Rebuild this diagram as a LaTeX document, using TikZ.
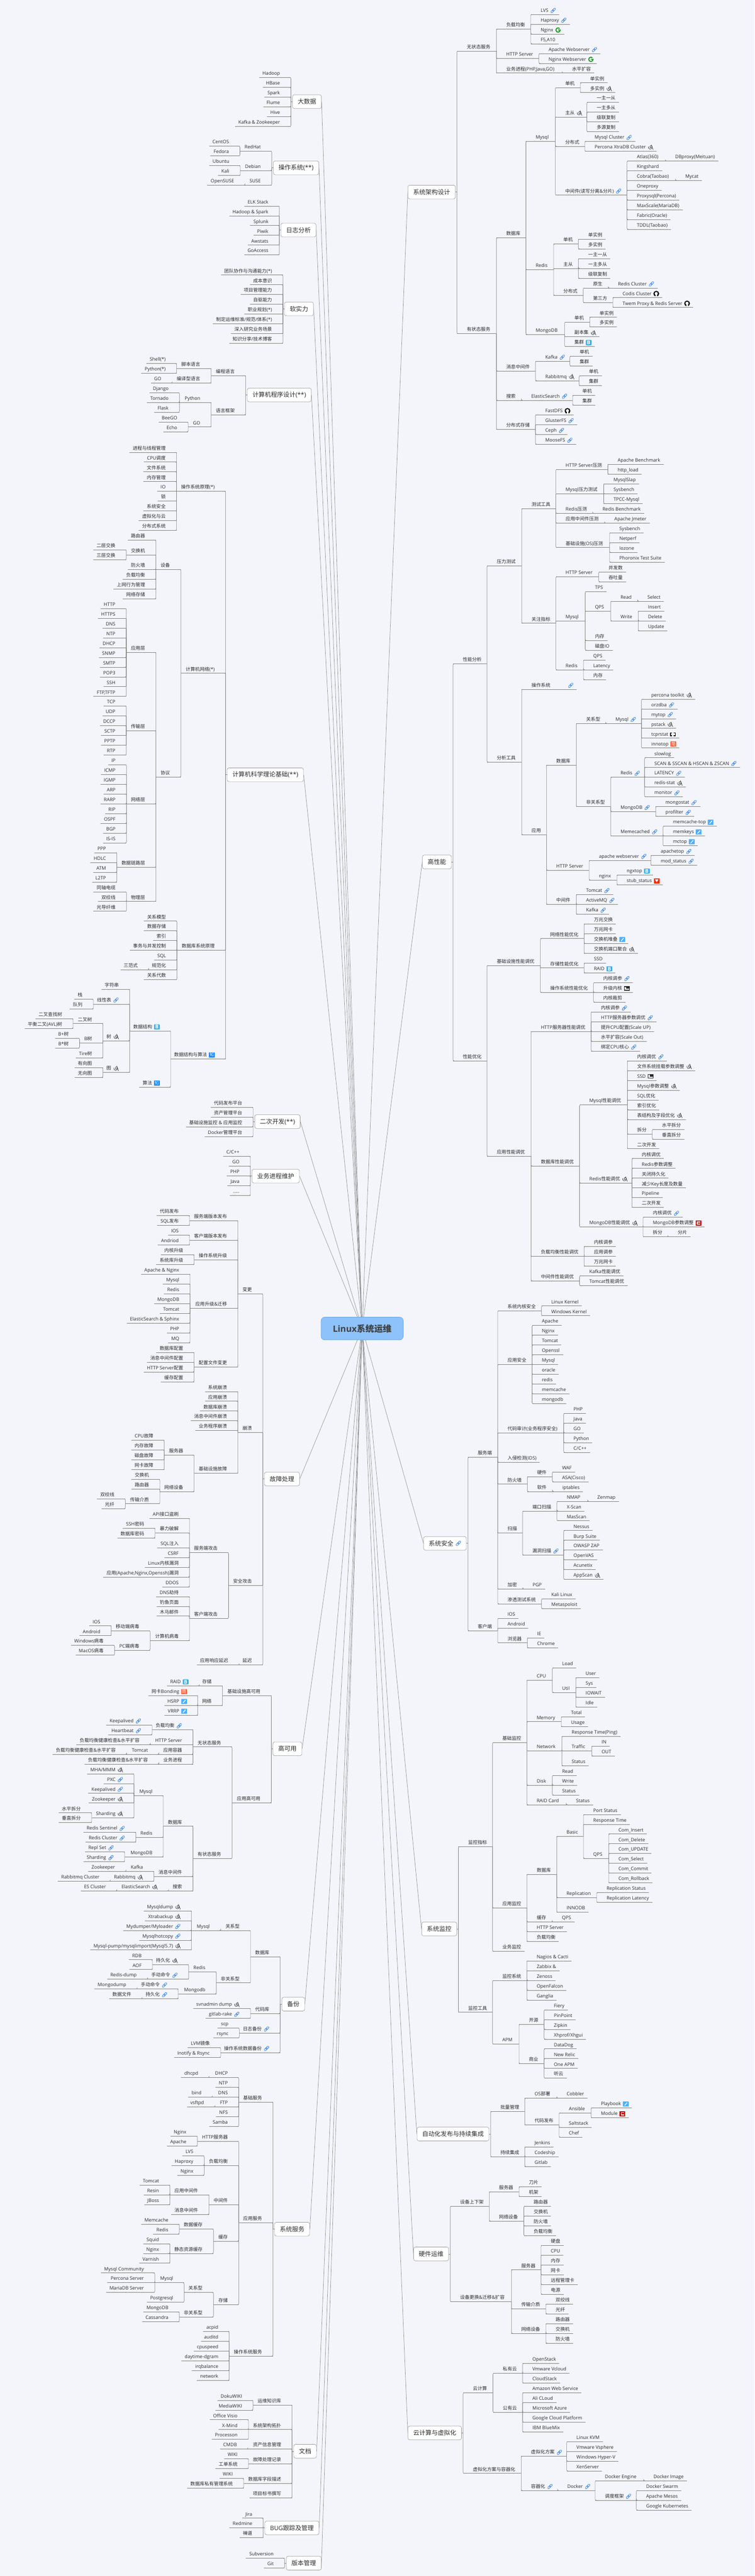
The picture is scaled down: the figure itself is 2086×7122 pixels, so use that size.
\documentclass[tikz,border=0pt]{standalone}
\usepackage{fontspec}
\setmainfont{Open Sans}
\newfontfamily\cjkfont{Noto Sans CJK SC}
\usetikzlibrary{calc,backgrounds}
% Chinese runs switch to the CJK family on their own
\newXeTeXintercharclass\cjkclass
\newcount\cjkcode
\cjkcode="4E00
\loop\XeTeXcharclass\cjkcode=\cjkclass\ifnum\cjkcode<"9FFF\advance\cjkcode by 1\repeat
\XeTeXinterchartoks 0 \cjkclass={\cjkfont}
\XeTeXinterchartoks 4095 \cjkclass={\cjkfont}
\XeTeXinterchartoks \cjkclass 0={\rmfamily}
\XeTeXinterchartoks \cjkclass 4095={\rmfamily}
\XeTeXinterchartokenstate=1
\definecolor{paper}{HTML}{F3F5FA}
\definecolor{wire}{HTML}{808080}
\definecolor{inktext}{HTML}{2B2B2B}
\definecolor{rootfill}{HTML}{8DC2FA}
\definecolor{rootedge}{HTML}{6FA6E0}
\definecolor{chainblue}{HTML}{4A8FE8}
\tikzset{
	x=1pt,y=-1pt,
	link/.style={draw=wire,line width=0.9pt},
	spoke/.style={draw=wire!85!white,line width=1pt},
	topicr/.style={anchor=south west,inner sep=0pt,text height=11pt,text depth=6.5pt,text=inktext,font=\fontsize{13}{15}\selectfont},
	topicl/.style={topicr,anchor=south east},
	mainbox/.style={draw=wire!80!white,fill=white,rounded corners=5pt,line width=0.9pt,inner xsep=14.5pt,inner ysep=0pt,minimum height=38pt,text=inktext,font=\fontsize{17}{19}\selectfont},
	rootbox/.style={draw=rootedge,fill=rootfill,rounded corners=10pt,line width=1pt,minimum width=227pt,minimum height=63pt,text=inktext!90!white,font=\bfseries\fontsize{24}{26}\selectfont},
	iclink/.pic={\draw[chainblue,line width=1.3pt,rounded corners=2pt,rotate=45] (-8,-2.4) rectangle (1.5,2.4) (-1.5,-2.4) rectangle (8,2.4);},
	icgoogle/.pic={\draw[green!60!black,line width=2.4pt] (4.2,-4.2) arc[start angle=-45,end angle=-360,radius=6] -- (0.5,0);},
	ichub/.pic={\fill[black] (0,0) circle (8);\fill[white] (0,-0.5) circle (4.3);\fill[white] (-2,3) rectangle (2,8.5);},
	icbaidu/.pic={\fill[chainblue!70!cyan,rounded corners=1.5pt] (-8,-7) rectangle (8,7);\pgftext{\color{white}\bfseries\fontsize{14}{14}\selectfont B}},
	iczhi/.pic={\fill[blue!50!cyan,rounded corners=1pt] (-8,-7) rectangle (8,7);\pgftext{\color{white}\fontsize{12}{12}\selectfont 知}},
	icjian/.pic={\fill[red!60!orange!80!white,rounded corners=1pt] (-8,-7) rectangle (8,7);\pgftext{\color{white}\fontsize{12}{12}\selectfont 简}},
	icfeather/.pic={\fill[blue!45!cyan!70!white,rounded corners=1pt] (-8,-7) rectangle (8,7);\draw[white,line width=2pt] (-3,4) -- (4,-4);},
	icswirl/.pic={\draw[inktext,line width=1pt] (-6,-2) .. controls (-8,6) and (3,8) .. (4,1) .. controls (5,-6) and (-3,-6) .. (-2,0) .. controls (-1,3) and (2,2) .. (2,0);\draw[inktext,line width=1pt] (2,-7) -- (7,7);},
	iccsdn/.pic={\fill[red!75!black] (-8,-7) rectangle (8,7);\draw[white,line width=2.6pt] (5,-3) -- (-3,-3) -- (-3,3) -- (5,3);},
	icdark/.pic={\fill[inktext] (-8,-6) rectangle (8,6);\fill[white] (-6,-4) rectangle (-2,4);\fill[white] (-2,1) rectangle (6,4);},
	icshield/.pic={\fill[red!70!orange] (-8,-7) rectangle (8,7);\fill[white] (-5,-4) -- (5,-4) -- (0,4) -- cycle;},
	icframe/.pic={\draw[black,line width=2pt] (-2,-4) -- (-7,-4) -- (-7,4) -- (-2,4) (2,-4) -- (7,-4) -- (7,4) -- (2,4);},
}
\gdef\pendicon{}
\newcommand{\I}[1]{\gdef\pendicon{#1}\kern21pt}
\newcommand{\icl}{\I{iclink}}
\newcommand{\icg}{\I{icgoogle}}
\newcommand{\ich}{\I{ichub}}
\newcommand{\icb}{\I{icbaidu}}
\newcommand{\icz}{\I{iczhi}}
\newcommand{\icj}{\I{icjian}}
\newcommand{\icr}{\I{icfeather}}
\newcommand{\ics}{\I{icswirl}}
\newcommand{\icc}{\I{iccsdn}}
\newcommand{\icd}{\I{icdark}}
\newcommand{\icv}{\I{icshield}}
\newcommand{\icf}{\I{icframe}}
\newcommand{\placeicon}[3]{\ifx\pendicon\empty\else\edef\next{\noexpand\pic at ([shift={(#2pt,#3pt)}]#1) {\pendicon};}\next\gdef\pendicon{}\fi}
\newcommand{\setrow}[2][27]{\xdef\rowy{#2}\xdef\rowstep{#1}}
\newcommand{\nextrow}{\pgfmathparse{\rowy+\rowstep}\xdef\rowy{\pgfmathresult}}
\newcommand{\findends}[1]{\foreach \kid [count=\kidno] in {#1} {\ifnum\kidno=1 \xdef\firstkid{\kid}\fi\xdef\lastkid{\kid}}}
% right hand side: name, bus, text
\newcommand{\leafr}[3]{\node[topicr] (#1) at (#2,\rowy) {\kern27pt #3\kern9pt};
	\draw[link] (#1.south west) -- (#1.south east);
	\placeicon{#1.south east}{-17}{11}\nextrow}
\newcommand{\leafsr}[2]{\foreach \nm/\tx in {#2} {\leafr{\nm}{#1}{\tx}}}
\newcommand{\bendr}[2]{\draw[link] (#1) -- (#2.south west |- #1);
	\draw[link,rounded corners=3pt] (#2.south west |- #1) -- (#2.south west) -- +(3,0);}
\newcommand{\forkr}[4]{\findends{#3}
	\path let \p1=($(\firstkid.south)!.5!(\lastkid.south)$) in node[topicr] (#1) at (#2pt,\y1) {\kern27pt #4\kern9pt};
	\draw[link] (#1.south west) -- (#1.south east);
	\placeicon{#1.south east}{-17}{11}
	\foreach \kid in {#3} {\bendr{#1.south east}{\kid}}}
\newcommand{\hubr}[5]{\node[mainbox,anchor=east] (#1) at (#2,#3) {#5};
	\placeicon{#1.east}{-22.5}{0}
	\foreach \kid in {#4} {\bendr{#1.east}{\kid}}}
% left hand side, mirrored
\newcommand{\leafl}[3]{\node[topicl] (#1) at (#2,\rowy) {\kern9pt #3\kern30pt};
	\draw[link] (#1.south west) -- (#1.south east);
	\placeicon{#1.south east}{-38}{11}\nextrow}
\newcommand{\leafsl}[2]{\foreach \nm/\tx in {#2} {\leafl{\nm}{#1}{\tx}}}
\newcommand{\bendl}[2]{\draw[link] (#1) -- (#2.south east |- #1);
	\draw[link,rounded corners=3pt] (#2.south east |- #1) -- (#2.south east) -- +(-3,0);}
\newcommand{\forkl}[4]{\findends{#3}
	\path let \p1=($(\firstkid.south)!.5!(\lastkid.south)$) in node[topicl] (#1) at (#2pt,\y1) {\kern9pt #4\kern30pt};
	\draw[link] (#1.south west) -- (#1.south east);
	\placeicon{#1.south east}{-38}{11}
	\foreach \kid in {#3} {\bendl{#1.south west}{\kid}}}
\newcommand{\hubl}[5]{\node[mainbox,anchor=west] (#1) at (#2,#3) {#5};
	\foreach \kid in {#4} {\bendl{#1.west}{\kid}}}
\begin{document}
\begin{tikzpicture}
	\begin{scope}[on background layer]
		\fill[paper] (0,0) rectangle (2086,7122);
	\end{scope}
	\path[use as bounding box] (0,0) rectangle (2086,7122);
	\node[rootbox] (root) at (1001,3673) {Linux系统运维};

	% System architecture
	\setrow{40}
	\leafsr{1467}{lvs/LVS\icl,hap/Haproxy\icl,ngx/Nginx\icg,f5/{F5,A10}}
	\forkr{lb}{1372}{lvs,hap,ngx,f5}{负载均衡}
	\leafsr{1489.4}{apw/Apache Webserver\icl,ngw/Nginx Webserver\icg}
	\forkr{hs}{1372}{apw,ngw}{HTTP Server}
	\leafsr{1554}{hsc/水平扩容}
	\forkr{biz}{1372}{hsc}{业务进程(PHP,Java,GO)}
	\forkr{stateless}{1263}{lb,hs,biz}{无状态服务}
	\leafsr{1604}{m1/单实例,m2/多实例\ics}
	\forkr{ms}{1535}{m1,m2}{单机}
	\leafsr{1622}{m3/一主一从,m4/一主多从,m5/级联复制,m6/多源复制}
	\forkr{mr}{1535}{m3,m4,m5,m6}{主从\ics}
	\leafsr{1616.5}{m7/Mysql Cluster\icl,m8/Percona XtraDB Cluster\ics}
	\forkr{md}{1535}{m7,m8}{分布式}
	\leafsr{1839}{m9a/DBproxy(Meituan)}
	\forkr{m9}{1733}{m9a}{Atlas(360)}
	\leafsr{1733}{m10/Kingshard}
	\leafsr{1867}{m11a/Mycat}
	\forkr{m11}{1733}{m11a}{Cobra(Taobao)}
	\leafsr{1733}{m12/Oneproxy,m13/Proxysql(Percona),m14/MaxScale(MariaDB),m15/Fabric(Oracle),m16/TDDL(Taobao)}
	\forkr{mm}{1535}{m9,m10,m11,m12,m13,m14,m15,m16}{中间件(读写分离\&分片)\icl}
	\forkr{my}{1453.5}{ms,mr,md,mm}{Mysql}
	\leafsr{1598.6}{r1/单实例,r2/多实例}
	\forkr{rs}{1530}{r1,r2}{单机}
	\leafsr{1598.6}{r3/一主一从,r4/一主多从,r5/级联复制}
	\forkr{rr}{1530}{r3,r4,r5}{主从}
	\leafsr{1681}{r6/Redis Cluster\icl}
	\forkr{r6p}{1612}{r6}{原生}
	\leafsr{1693.7}{r7/Codis Cluster\ich,r8/Twem Proxy \& Redis Server\ich}
	\forkr{r7p}{1612}{r7,r8}{第三方}
	\forkr{rd}{1530}{r6p,r7p}{分布式}
	\forkr{re}{1453.5}{rs,rr,rd}{Redis}
	\leafsr{1630}{g1/单实例,g2/多实例}
	\forkr{gs}{1560.6}{g1,g2}{单机}
	\leafsr{1560.6}{g3/副本集\ics,g4/集群\icb}
	\forkr{mg}{1453.5}{gs,g3,g4}{MongoDB}
	\forkr{db}{1372}{my,re,mg}{数据库}
	\leafsr{1575}{k1/单机,k2/集群}
	\forkr{ka}{1480}{k1,k2}{Kafka\icl}
	\leafsr{1600.6}{k3/单机,k4/集群}
	\forkr{rb}{1480}{k3,k4}{Rabbitmq\ics}
	\forkr{mq}{1372}{ka,rb}{消息中间件}
	\leafsr{1582.6}{e1/单机,e2/集群}
	\forkr{es}{1441}{e1,e2}{ElasticSearch\icl}
	\forkr{se}{1372}{es}{搜索}
	\leafsr{1480}{f1/FastDFS\ich,f2/GlusterFS\icl,f3/Ceph\icl,f4/MooseFS\icl}
	\forkr{fs}{1372}{f1,f2,f3,f4}{分布式存储}
	\forkr{stateful}{1263}{db,mq,se,fs}{有状态服务}
	\hubr{archbox}{1259}{531}{stateless,stateful}{系统架构设计}

	% High performance
	\setrow[27.03]{1284}
	\leafsr{1680}{a1/Apache Benchmark,a2/http\_load}
	\forkr{t1}{1536.3}{a1,a2}{HTTP Server压测}
	\leafsr{1668.6}{a3/MysqlSlap,a4/Sysbench,a5/TPCC-Mysql}
	\forkr{t2}{1536.3}{a3,a4,a5}{Mysql压力测试}
	\leafsr{1638}{a6/Redis Benchmark}
	\forkr{t3}{1536.3}{a6}{Redis压测}
	\leafsr{1671}{a7/Apache Jmeter}
	\forkr{t4}{1536.3}{a7}{应用中间件压测}
	\leafsr{1684.8}{a8/Sysbench,a9/Netperf,a10/Iozone,a11/Phoronix Test Suite}
	\forkr{t5}{1536.3}{a8,a9,a10,a11}{基础设施(OS)压测}
	\forkr{tool}{1442}{t1,t2,t3,t4,t5}{测试工具}
	\leafsr{1654.7}{b1/并发数,b2/吞吐量}
	\forkr{i1}{1536.3}{b1,b2}{HTTP Server}
	\leafsr{1617.4}{b3/TPS}
	\leafsr{1762.4}{b4/Select}
	\forkr{b4p}{1687.8}{b4}{Read}
	\leafsr{1764}{b5/Insert,b6/Delete,b7/Update}
	\forkr{b5p}{1687.8}{b5,b6,b7}{Write}
	\forkr{b8}{1617.4}{b4p,b5p}{QPS}
	\leafsr{1617.4}{b9/内存,b10/磁盘IO}
	\forkr{i2}{1536.3}{b3,b8,b9,b10}{Mysql}
	\leafsr{1612.6}{b11/QPS,b12/Latency,b13/内存}
	\forkr{i3}{1536.3}{b11,b12,b13}{Redis}
	\forkr{idx}{1442}{i1,i2,i3}{关注指标}
	\forkr{press}{1346}{tool,idx}{压力测试}
	\leafsr{1442}{c1/操作系统\kern43pt\icl}
	\leafsr{1773}{d1/percona toolkit\ics,d2/orzdba\icl,d3/mytop\icl,d4/pstack\ics,d5/tcprstat\icf,d6/innotop\icj}
	\forkr{d7}{1674}{d1,d2,d3,d4,d5,d6}{Mysql\icl}
	\forkr{d8}{1592.8}{d7}{关系型}
	\leafsr{1781.6}{n1/slowlog,n2/SCAN \& SSCAN \& HSCAN \& ZSCAN\icl,n3/LATENCY\icl,n4/redis-stat\ics,n5/monitor\icl}
	\forkr{n6}{1687.8}{n1,n2,n3,n4,n5}{Redis\icl}
	\leafsr{1812.3}{n7/mongostat\icl,n8/profilter\icl}
	\forkr{n9}{1687.8}{n7,n8}{MongoDB\icl}
	\leafsr{1832.7}{n10/memcache-top\icr,n11/memkeys\icr,n12/mctop\icr}
	\forkr{n13}{1687.8}{n10,n11,n12}{Memecached\icl}
	\forkr{n14}{1592.8}{n6,n9,n13}{非关系型}
	\forkr{n15}{1510.4}{d8,n14}{数据库}
	\leafsr{1799}{h1/apachetop\icl,h2/mod\_status\icl}
	\forkr{h3}{1628.3}{h1,h2}{apache webserver\icl}
	\leafsr{1705.2}{h4/ngxtop\icb,h5/stub\_status\icv}
	\forkr{h6}{1628.3}{h4,h5}{nginx}
	\forkr{h7}{1510.4}{h3,h6}{HTTP Server}
	\leafsr{1592.8}{j1/Tomcat\icl,j2/ActiveMQ\icl,j3/Kafka\icl}
	\forkr{j4}{1510.4}{j1,j2,j3}{中间件}
	\forkr{app}{1442}{n15,h7,j4}{应用}
	\forkr{ana}{1346}{c1,app}{分析工具}
	\forkr{perf}{1252}{press,ana}{性能分析}
	\leafsr{1614.4}{o1/万兆交换,o2/万兆网卡,o3/交换机堆叠\icr,o4/交换机端口聚合\ics}
	\forkr{o5}{1493.6}{o1,o2,o3,o4}{网络性能优化}
	\leafsr{1614.4}{o6/SSD,o7/RAID\icb}
	\forkr{o8}{1493.6}{o6,o7}{存储性能优化}
	\leafsr{1640.3}{o9/内核调参\icl,o10/升级内核\icd,o11/内核裁剪}
	\forkr{o12}{1493.6}{o9,o10,o11}{操作系统性能优化}
	\forkr{infra}{1346}{o5,o8,o12}{基础设施性能调优}
	\leafsr{1633.7}{p1/内核调参\icl,p2/HTTP服务器参数调优\icl,p3/提升CPU配置(Scale UP),p4/水平扩容(Scale Out),p5/绑定CPU核心\icl}
	\forkr{p6}{1467.7}{p1,p2,p3,p4,p5}{HTTP服务器性能调优}
	\leafsr{1734}{q1/内核调优\icl,q2/文件系统挂载参数调整\ics,q3/SSD\icd,q4/Mysql参数调整\ics,q5/SQL优化,q6/索引优化,q7/表结构及字段优化\ics}
	\leafsr{1802.7}{q8/水平拆分,q9/垂直拆分}
	\forkr{q10}{1734}{q8,q9}{拆分}
	\leafsr{1734}{q11/二次开发}
	\forkr{q12}{1601.8}{q1,q2,q3,q4,q5,q6,q7,q10,q11}{Mysql性能调优}
	\leafsr{1746.7}{u1/内核调优,u2/Redis参数调整,u3/关闭持久化,u4/减少Key长度及数量,u5/Pipeline,u6/二次开发}
	\forkr{u7}{1601.8}{u1,u2,u3,u4,u5,u6}{Redis性能调优\ics}
	\leafsr{1777.4}{v1/内核调优\icl,v2/MongoDB参数调整\icc}
	\leafsr{1846}{v3/分片}
	\forkr{v4}{1777.4}{v3}{拆分}
	\forkr{v5}{1601.8}{v1,v2,v4}{MongoDB性能调优\ics}
	\forkr{p7}{1467.7}{q12,u7,v5}{数据库性能调优}
	\leafsr{1614.4}{w1/内核调参,w2/应用调参,w3/万兆网卡}
	\forkr{w4}{1467.7}{w1,w2,w3}{负载均衡性能调优}
	\leafsr{1601.8}{w5/Kafka性能调优,w6/Tomcat性能调优}
	\forkr{w7}{1467.7}{w5,w6}{中间件性能调优}
	\forkr{appt}{1346}{p6,p7,w4,w7}{应用性能调优}
	\forkr{opt}{1252}{infra,appt}{性能优化}
	\hubr{perfbox}{1248}{2383}{perf,opt}{高性能}

	% System security
	\setrow{3610.5}
	\leafsr{1496.6}{sa/Linux Kernel,sb/Windows Kernel}
	\forkr{s1}{1375.7}{sa,sb}{系统内核安全}
	\leafsr{1470.7}{sc/Apache,sd/Nginx,sf0/Tomcat,sf/Openssl,sg/Mysql,sh/oracle,si/redis,sj/memcache,sk/mongodb}
	\forkr{s2}{1375.7}{sc,sd,sf0,sf,sg,sh,si,sj,sk}{应用安全}
	\leafsr{1558}{sl/PHP,sm/Java,sn/GO,so/Python,sp/{C/C++}}
	\forkr{s3}{1375.7}{sl,sm,sn,so,sp}{代码审计(业务程序安全)}
	\leafsr{1375.7}{s4/入侵检测(IDS)}
	\leafsr{1526.6}{sq/WAF,sr/ASA(Cisco)}
	\forkr{ss}{1457.5}{sq,sr}{硬件}
	\leafsr{1527}{st/iptables}
	\forkr{su}{1457.5}{st}{软件}
	\forkr{s5}{1375.7}{ss,su}{防火墙}
	\leafsr{1624}{sv/Zenmap}
	\forkr{sw}{1539.3}{sv}{NMAP}
	\leafsr{1539.3}{sx/X-Scan,sy/MasScan}
	\forkr{sz}{1444.3}{sw,sx,sy}{端口扫描}
	\leafsr{1558}{ta/Nessus,tb/Burp Suite,tc/OWASP ZAP,td/OpenVAS,te/Acunetix,tf/AppScan\ics}
	\forkr{tg}{1444.3}{ta,tb,tc,td,te,tf}{漏洞扫描\icl}
	\forkr{s6}{1375.7}{sz,tg}{扫描}
	\leafsr{1445}{th/PGP}
	\forkr{s7}{1375.7}{th}{加密}
	\leafsr{1496.6}{ti/Kali Linux,tj/Metaspoloit}
	\forkr{s8}{1375.7}{ti,tj}{渗透测试系统}
	\forkr{srv}{1293.3}{s1,s2,s3,s4,s5,s6,s7,s8}{服务端}
	\leafsr{1375.7}{tk/IOS,tl/Android}
	\leafsr{1457.5}{tm/IE,tn/Chrome}
	\forkr{to}{1375.7}{tm,tn}{浏览器}
	\forkr{cli}{1293.3}{tk,tl,to}{客户端}
	\hubr{secbox}{1289.3}{4267}{srv,cli}{系统安全\icl}

	% Monitoring
	\setrow{4611.5}
	\leafsr{1526.6}{ma/Load}
	\leafsr{1591.6}{mb/User,mc/Sys,md1/IOWAIT,me/Idle}
	\forkr{mf}{1526.6}{mb,mc,md1,me}{Util}
	\forkr{c1m}{1456.3}{ma,mf}{CPU}
	\leafsr{1551.3}{mg1/Total,mh/Usage}
	\forkr{c2m}{1456.3}{mg1,mh}{Memory}
	\leafsr{1553}{mi/Response Time(Ping)}
	\leafsr{1635.5}{mj/IN,mk/OUT}
	\forkr{ml}{1553}{mj,mk}{Traffic}
	\leafsr{1553}{mn/Status}
	\forkr{c3m}{1456.3}{mi,ml,mn}{Network}
	\leafsr{1526.6}{mo/Read,mp/Write,mq1/Status}
	\forkr{c4m}{1456.3}{mo,mp,mq1}{Disk}
	\leafsr{1565}{mt/Status}
	\forkr{c5m}{1456.3}{mt}{RAID Card}
	\forkr{base}{1361.3}{c1m,c2m,c3m,c4m,c5m}{基础监控}
	\leafsr{1612.6}{ba/Port Status,bb/Response Time}
	\leafsr{1682.4}{bc/Com\_Insert,bd/Com\_Delete,be/Com\_UPDATE,bf/Com\_Select,bg/Com\_Commit,bh/Com\_Rollback}
	\forkr{bi}{1612.6}{bc,bd,be,bf,bg,bh}{QPS}
	\forkr{bj}{1538.7}{ba,bb,bi}{Basic}
	\leafsr{1649.3}{bk/Replication Status,bl/Replication Latency}
	\forkr{bm}{1538.7}{bk,bl}{Replication}
	\leafsr{1538.7}{bn/INNODB}
	\forkr{bo}{1456.3}{bj,bm,bn}{数据库}
	\leafsr{1526}{bp/QPS}
	\forkr{bq}{1456.3}{bp}{缓存}
	\leafsr{1456.3}{br/HTTP Server,bs/负载均衡}
	\forkr{appm}{1361.3}{bo,bq,br,bs}{应用监控}
	\leafsr{1361.3}{bizm/业务监控}
	\forkr{met}{1266.9}{base,appm,bizm}{监控指标}
	\leafsr{1456.3}{xa/Nagios \& Cacti,xb/Zabbix \&,xc/Zenoss,xd/OpenFalcon,xe/Ganglia}
	\forkr{xf}{1361.3}{xa,xb,xc,xd,xe}{监控系统}
	\leafsr{1503.8}{xg/Fiery,xh/PinPoint,xi/Zipkin,xj/{Xhprof/Xhgui}}
	\forkr{xk}{1434.6}{xg,xh,xi,xj}{开源}
	\leafsr{1503.8}{xl/DataDog,xm/New Relic,xn/One APM,xo/听云}
	\forkr{xp}{1434.6}{xl,xm,xn,xo}{商业}
	\forkr{xq}{1361.3}{xk,xp}{APM}
	\forkr{mon}{1266.9}{xf,xq}{监控工具}
	\hubr{monbox}{1262.9}{5333}{met,mon}{系统监控}

	% Release automation
	\setrow{5800.8}
	\leafsr{1539}{ya/Cobbler}
	\forkr{yb}{1450.3}{ya}{OS部署}
	\leafsr{1633.7}{yc/Playbook\icr,yd/Module\icc}
	\forkr{ye}{1545.3}{yc,yd}{Ansible}
	\leafsr{1545.3}{yf/Saltstack,yg/Chef}
	\forkr{yh}{1450.3}{ye,yf,yg}{代码发布}
	\forkr{yi}{1356}{yb,yh}{批量管理}
	\leafsr{1450.3}{yj/Jenkins,yk/Codeship,yl/Gitlab}
	\forkr{ym}{1356}{yj,yk,yl}{持续集成}
	\hubr{autobox}{1352}{5900}{yi,ym}{自动化发布与持续集成}

	% Hardware
	\setrow{6046}
	\leafsr{1434.6}{za/刀片,zb/机架}
	\forkr{zc}{1352.3}{za,zb}{服务器}
	\leafsr{1447.9}{zd/路由器,ze/交换机,zf/防火墙,zg/负载均衡}
	\forkr{zh}{1352.3}{zd,ze,zf,zg}{网络设备}
	\forkr{zi}{1244.6}{zc,zh}{设备上下架}
	\leafsr{1495.4}{zj/硬盘,zk/CPU,zl/内存,zm/网卡,zn/远程管理卡,zo/电源}
	\forkr{zp}{1413.6}{zj,zk,zl,zm,zn,zo}{服务器}
	\leafsr{1508.6}{zq/双绞线,zr/光纤}
	\forkr{zs}{1413.6}{zq,zr}{传输介质}
	\leafsr{1508.6}{zt/路由器,zu/交换机,zv/防火墙}
	\forkr{zw}{1413.6}{zt,zu,zv}{网络设备}
	\forkr{zx}{1244.6}{zp,zs,zw}{设备更换\&迁移\&扩容}
	\hubr{hwbox}{1240.6}{6231.5}{zi,zx}{硬件运维}

	% Cloud
	\setrow{6534.4}
	\leafsr{1444.3}{ca/OpenStack,cb/Vmware Vcloud,cc/CloudStack}
	\forkr{cd}{1362.5}{ca,cb,cc}{私有云}
	\leafsr{1444.3}{ce/Amazon Web Service,cf/Ali CLoud,cg/Microsoft Azure,ch/Google Cloud Platform,ci/IBM BlueMix}
	\forkr{cj}{1362.5}{ce,cf,cg,ch,ci}{公有云}
	\forkr{ck}{1280}{cd,cj}{云计算}
	\leafsr{1566.3}{cl/Linux KVM,cm/Vmware Vsphere,cn/Windows Hyper-V,co/XenServer}
	\forkr{cp}{1440.6}{cl,cm,cn,co}{虚拟化方案\icl}
	\leafsr{1779}{cq/Docker Image}
	\forkr{cr}{1645}{cq}{Docker Engine}
	\leafsr{1758.8}{cs/Docker Swarm,ct/Apache Mesos,cu/Google Kubernetes}
	\forkr{cv}{1645}{cs,ct,cu}{调度框架\icl}
	\forkr{cw}{1541}{cr,cv}{Docker\icl}
	\forkr{cx}{1440.6}{cw}{容器化\icl}
	\forkr{cy}{1280}{cp,cx}{虚拟化方案与容器化}
	\hubr{cloudbox}{1276}{6726.5}{ck,cy}{云计算与虚拟化}

	% Big data
	\setrow{214.5}
	\leafsl{804}{l1/Hadoop,l2/HBase,l3/Spark,l4/Flume,l5/Hive,l6/Kafka \& Zookeeper}
	\hubl{databox}{808}{281}{l1,l2,l3,l4,l5,l6}{大数据}

	% Operating systems
	\setrow{404}
	\leafsl{663}{os1/CentOS,os2/Fedora}
	\forkl{os3}{751}{os1,os2}{RedHat}
	\leafsl{664}{os4/Ubuntu,os5/Kali}
	\forkl{os6}{751}{os4,os5}{Debian}
	\leafsl{677}{os7/OpenSUSE}
	\forkl{os8}{751}{os7}{SUSE}
	\hubl{osbox}{755}{464}{os3,os6,os8}{操作系统(**)}

	% Log analysis
	\setrow{569.6}
	\leafsl{772}{lg1/ELK Stack,lg2/Hadoop \& Spark,lg3/Splunk,lg4/Piwik,lg5/Awstats,lg6/GoAccess}
	\hubl{logbox}{776}{636}{lg1,lg2,lg3,lg4,lg5,lg6}{日志分析}

	% Soft skills
	\setrow{760.3}
	\leafsl{782}{sk1/团队协作与沟通能力(*),sk2/成本意识,sk3/项目管理能力,sk4/自驱能力,sk5/职业规划(*),sk6/{制定运维标准/规范/体系(*)},sk7/深入研究业务场景,sk8/{知识分享/技术博客}}
	\hubl{softbox}{786}{854}{sk1,sk2,sk3,sk4,sk5,sk6,sk7,sk8}{软实力}

	% Programming
	\setrow{1005}
	\leafsl{488}{pg1/Shell(*),pg2/Python(*)}
	\forkl{pg3}{583.5}{pg1,pg2}{脚本语言}
	\leafsl{476}{pg4/GO}
	\forkl{pg5}{583.5}{pg4}{编译型语言}
	\forkl{pg6}{679}{pg3,pg5}{编程语言}
	\leafsl{496}{pg7/Django,pg8/Tornado,pg9/Flask}
	\forkl{pg10}{583.5}{pg7,pg8,pg9}{Python}
	\leafsl{520}{pg11/BeeGO,pg12/Echo}
	\forkl{pg13}{583.5}{pg11,pg12}{GO}
	\forkl{pg14}{679}{pg10,pg13}{语言框架}
	\hubl{progbox}{683}{1092}{pg6,pg14}{计算机程序设计(**)}

	% Computer science basics
	\setrow{1250.4}
	\leafsl{488}{th1/进程与线程管理,th2/CPU调度,th3/文件系统,th4/内存管理,th5/IO,th6/锁,th7/系统安全,th8/虚拟化与云,th9/分布式系统}
	\forkl{tos}{623.5}{th1,th2,th3,th4,th5,th6,th7,th8,th9}{操作系统原理(*)}
	\leafsl{431}{n1/路由器}
	\leafsl{349}{n2/二层交换,n3/三层交换}
	\forkl{n4}{431}{n2,n3}{交换机}
	\leafsl{431}{n5/防火墙,n6/负载均衡,n7/上网行为管理,n8/网络存储}
	\forkl{ndev}{500}{n1,n4,n5,n6,n7,n8}{设备}
	\leafsl{349}{n9/HTTP,n10/HTTPS,n11/DNS,n12/NTP,n13/DHCP,n14/SNMP,n15/SMTP,n16/POP3,n17/SSH,n18/{FTP,TFTP}}
	\forkl{n19}{431}{n9,n10,n11,n12,n13,n14,n15,n16,n17,n18}{应用层}
	\leafsl{349}{n20/TCP,n21/UDP,n22/DCCP,n23/SCTP,n24/PPTP,n25/RTP}
	\forkl{n26}{431}{n20,n21,n22,n23,n24,n25}{传输层}
	\leafsl{349.5}{n27/IP,n28/ICMP,n29/IGMP,n30/ARP,n31/RARP,n32/RIP,n33/OSPF,n34/BGP,n35/IS-IS}
	\forkl{n36}{431}{n27,n28,n29,n30,n31,n32,n33,n34,n35}{网络层}
	\leafsl{323}{n37/PPP,n38/HDLC,n39/ATM,n40/L2TP}
	\forkl{n41}{431}{n37,n38,n39,n40}{数据链路层}
	\leafsl{349.5}{n42/同轴电缆,n43/双绞线,n44/光导纤维}
	\forkl{n45}{431}{n42,n43,n44}{物理层}
	\forkl{nproto}{500}{n19,n26,n36,n41,n45}{协议}
	\forkl{tnet}{623.5}{ndev,nproto}{计算机网络(*)}
	\leafsl{489}{d1/关系模型,d2/数据存储,d3/索引,d4/事务与并发控制,d5/SQL}
	\leafsl{411}{d6/三范式}
	\forkl{d7}{489}{d6}{规范化}
	\leafsl{489}{d8/关系代数}
	\forkl{tdb}{623.5}{d1,d2,d3,d4,d5,d7,d8}{数据库系统原理}
	\leafsl{358.6}{e1/字符串}
	\leafsl{258}{e2/栈,e3/队列}
	\forkl{e4}{358.6}{e2,e3}{线性表\icl}
	\leafsl{202}{e5/二叉查找树,e6/平衡二叉(AVL)树}
	\forkl{e7}{284.6}{e5,e6}{二叉树}
	\leafsl{220}{e8/B+树,e9/B*树}
	\forkl{e10}{284.6}{e8,e9}{B树}
	\leafsl{284.6}{e11/Tire树}
	\forkl{e12}{358.6}{e7,e10,e11}{树\ics}
	\leafsl{284.6}{e13/有向图,e14/无向图}
	\forkl{e15}{358.6}{e13,e14}{图\ics}
	\forkl{e16}{471.6}{e1,e4,e12,e15}{数据结构\icb}
	\leafsl{471.6}{e17/算法\icz}
	\forkl{tds}{623.5}{e16,e17}{数据结构与算法\icz}
	\hubl{theorybox}{627.5}{2142}{tos,tnet,tdb,tds}{计算机科学理论基础(**)}

	% Secondary development
	\setrow{3061.5}
	\leafsl{699.5}{dv1/代码发布平台,dv2/资产管理平台,dv3/基础设施监控 \& 应用监控,dv4/Docker管理平台}
	\hubl{devbox}{703.5}{3101}{dv1,dv2,dv3,dv4}{二次开发(**)}

	% Business processes
	\setrow{3197}
	\leafsl{692}{bp1/{C/C++},bp2/GO,bp3/PHP,bp4/Java}
	\leafl{bp5}{692}{.....}
	\hubl{bizbox}{696}{3251.5}{bp1,bp2,bp3,bp4,bp5}{业务进程维护}

	% Fault handling
	\setrow{3361}
	\leafsl{524}{fa/代码发布,fb/SQL发布}
	\forkl{fc}{657.6}{fa,fb}{服务端版本发布}
	\leafsl{524}{fd/IOS,fe/Andriod}
	\forkl{ff}{657.6}{fd,fe}{客户端版本发布}
	\leafsl{536.5}{fg/内核升级,fh/系统库升级}
	\forkl{fi}{657.6}{fg,fh}{操作系统升级}
	\leafsl{525.5}{fj/Apache \& Nginx,fk/Mysql,fl/Redis,fm/MongoDB,fn/Tomcat,fo/ElasticSearch \& Sphinx,fp/PHP,fq/MQ}
	\forkl{fr}{657.6}{fj,fk,fl,fm,fn,fo,fp,fq}{应用升级\&迁移}
	\leafsl{536.5}{fs/数据库配置,ft/消息中间件配置,fu/HTTP Server配置,fv/缓存配置}
	\forkl{fw}{657.6}{fs,ft,fu,fv}{配置文件变更}
	\forkl{fchg}{726.5}{fc,ff,fi,fr,fw}{变更}
	\leafsl{657.6}{ga/系统崩溃,gb/应用崩溃,gc/数据库崩溃,gd/消息中间件崩溃,ge/业务程序崩溃}
	\leafsl{454}{gf/CPU故障,gg/内存故障,gh/磁盘故障,gi/网卡故障}
	\forkl{gj}{536.5}{gf,gg,gh,gi}{服务器}
	\leafsl{441.7}{gk/交换机,gl/路由器}
	\leafsl{346.4}{gm/双绞线,gn/光纤}
	\forkl{go}{441.7}{gm,gn}{传输介质}
	\forkl{gp}{536.5}{gk,gl,go}{网络设备}
	\forkl{gq}{657.6}{gj,gp}{基础设施故障}
	\forkl{fcr}{726.5}{ga,gb,gc,gd,ge,gq}{崩溃}
	\leafsl{524}{ha/API接口盗刷}
	\leafsl{428.5}{hb/SSH密码,hc/数据库密码}
	\forkl{hd}{524}{hb,hc}{暴力破解}
	\leafsl{524}{he/SQL注入,hf/CSRF,hg/Linux内核漏洞,hh/{应用(Apache,Nginx,Openssh)漏洞},hi/DDOS}
	\forkl{hj}{631.7}{ha,hd,he,hf,hg,hh,hi}{服务端攻击}
	\leafsl{524}{hk/DNS劫持,hl/钓鱼页面,hm/木马邮件}
	\leafsl{307.4}{hn/IOS,ho/Android}
	\forkl{hp}{415}{hn,ho}{移动端病毒}
	\leafsl{316.5}{hq/Windows病毒,hr/MacOS病毒}
	\forkl{hs}{415}{hq,hr}{PC端病毒}
	\forkl{ht}{524}{hp,hs}{计算机病毒}
	\forkl{hu}{631.7}{hk,hl,hm,ht}{客户端攻击}
	\forkl{hv}{726.5}{hj,hu}{安全攻击}
	\leafsl{661}{hw/应用响应延迟}
	\forkl{hx}{726.5}{hw}{延迟}
	\hubl{faultbox}{730.5}{4089}{fchg,fcr,hv,hx}{故障处理}

	% High availability
	\setrow{4661}
	\leafsl{551}{ia/RAID\icb}
	\forkl{ib}{615}{ia}{存储}
	\leafsl{546.7}{ic/网卡Bonding\icj,id/HSRP\icr,ie/VRRP\icr}
	\forkl{if}{615}{ic,id,ie}{网络}
	\forkl{ig}{750}{ib,if}{基础设施高可用}
	\leafsl{420.4}{ih/Keepalived\icl,ii/Heartbeat\icl}
	\forkl{ij}{533.5}{ih,ii}{负载均衡\icl}
	\leafsl{416}{ik/负载均衡健康检查\&水平扩容}
	\forkl{il}{533.5}{ik}{HTTP Server}
	\leafsl{350}{im/负载均衡健康检查\&水平扩容}
	\forkl{in}{439}{im}{Tomcat}
	\forkl{io}{533.5}{in}{应用容器}
	\leafsl{439}{ip/负载均衡健康检查\&水平扩容}
	\forkl{iq}{533.5}{ip}{业务进程}
	\forkl{ir}{641.4}{ij,il,io,iq}{无状态服务}
	\leafsl{370.4}{ja/{MHA/MMM\ics},jb/PXC\icl,jc/Keepalived\icl,jd/Zookeeper\ics}
	\leafsl{253.3}{je/水平拆分,jf/垂直拆分}
	\forkl{jg}{370.4}{je,jf}{Sharding\ics}
	\forkl{jh}{451.4}{ja,jb,jc,jd,jg}{Mysql}
	\leafsl{375.6}{ji/Redis Sentinel\icl,jj/Redis Cluster\icl}
	\forkl{jk}{451.4}{ji,jj}{Redis}
	\leafsl{344.6}{jl/Repl Set\icl,jm/Sharding\icl}
	\forkl{jn}{451.4}{jl,jm}{MongoDB}
	\forkl{jo}{533.5}{jh,jk,jn}{数据库}
	\leafsl{348}{jp/Zookeeper}
	\forkl{jq}{425.5}{jp}{Kafka}
	\leafsl{305}{jr/Rabbitmq Cluster}
	\forkl{js}{425.5}{jr}{Rabbitmq\ics}
	\forkl{jt}{533.5}{jq,js}{消息中间件}
	\leafsl{323}{ju/ES Cluster}
	\forkl{jv}{466}{ju}{ElasticSearch\ics}
	\forkl{jw}{533.5}{jv}{搜索}
	\forkl{jx}{641.4}{jo,jt,jw}{有状态服务}
	\forkl{jy}{750}{ir,jx}{应用高可用}
	\hubl{habox}{754}{4835}{ig,jy}{高可用}

	% Backup
	\setrow{5283}
	\leafsl{529.4}{ka/Mysqldump\ics,kb/Xtrabackup\ics,kc/{Mydumper/Myloader\icl},kd/Mysqlhotcopy\icl,ke/{Mysql-pump/mysqlimport(Mysql5.7)\ics}}
	\forkl{kf}{610}{ka,kb,kc,kd,ke}{Mysql}
	\forkl{kg}{692.5}{kf}{关系型}
	\leafsl{421.5}{kh/RDB,ki/AOF}
	\forkl{kj}{521.4}{kh,ki}{持久化\ics}
	\leafsl{408}{kk/Redis-dump}
	\forkl{kl}{521.4}{kk}{手动命令\icl}
	\forkl{km}{597.8}{kj,kl}{Redis}
	\leafsl{379}{kn/Mongodump}
	\forkl{ko}{492.7}{kn}{手动命令\icl}
	\leafsl{393}{kp/数据文件}
	\forkl{kq}{492.7}{kp}{持久化\icl}
	\forkl{kr}{597.8}{ko,kq}{Mongodb}
	\forkl{ks}{692.5}{km,kr}{非关系型}
	\forkl{kt}{774.6}{kg,ks}{数据库}
	\leafsl{692.5}{ku/svnadmin dump\ics,kv/gitlab-rake\icl}
	\forkl{kw}{774.6}{ku,kv}{代码库}
	\leafsl{661.5}{kx/scp,ky/rsync}
	\forkl{kz}{774.6}{kx,ky}{日志备份\icl}
	\leafsl{609.8}{la/LVM镜像,lb/Inotify \& Rsync}
	\forkl{lc}{774.6}{la,lb}{操作系统数据备份\icl}
	\hubl{bakbox}{778.6}{5541}{kt,kw,kz,lc}{备份}

	% System services
	\setrow{5744}
	\leafsl{578}{sa1/dhcpd}
	\forkl{sa2}{659.8}{sa1}{DHCP}
	\leafsl{659.8}{sa3/NTP}
	\leafsl{587}{sa4/bind}
	\forkl{sa5}{659.8}{sa4}{DNS}
	\leafsl{594}{sa6/vsftpd}
	\forkl{sa7}{659.8}{sa6}{FTP}
	\leafsl{659.8}{sa8/NFS,sa9/Samba}
	\forkl{sba}{754.5}{sa2,sa3,sa5,sa7,sa8,sa9}{基础服务}
	\leafsl{545.5}{sb1/Nginx,sb2/Apache}
	\forkl{sb3}{659.8}{sb1,sb2}{HTTP服务器}
	\leafsl{564.4}{sb4/LVS,sb5/Haproxy,sb6/Nginx}
	\forkl{sb7}{659.8}{sb4,sb5,sb6}{负载均衡}
	\leafsl{469.7}{sc1/Tomcat,sc2/Resin,sc3/JBoss}
	\forkl{sc4}{577.7}{sc1,sc2,sc3}{应用中间件}
	\leafsl{577.7}{sc5/消息中间件}
	\forkl{sc6}{659.8}{sc4,sc5}{中间件}
	\leafsl{495.6}{sd1/Memcache,sd2/Redis}
	\forkl{sd3}{590}{sd1,sd2}{数据缓存}
	\leafsl{469.7}{sd4/Squid,sd5/Nginx,sd6/Varnish}
	\forkl{sd7}{590}{sd4,sd5,sd6}{静态资源缓存}
	\forkl{sd8}{659.8}{sd3,sd7}{缓存}
	\leafsl{427.8}{se1/Mysql Community,se2/Percona Server,se3/MariaDB Server}
	\forkl{se4}{508.8}{se1,se2,se3}{Mysql}
	\leafsl{508.8}{se5/Postgresql}
	\forkl{se6}{590}{se4,se5}{关系型}
	\leafsl{495.6}{se7/MongoDB,se8/Cassandra}
	\forkl{se9}{590}{se7,se8}{非关系型}
	\forkl{sf1}{659.8}{se6,se9}{存储}
	\forkl{sap}{754.5}{sb3,sb7,sc6,sd8,sf1}{应用服务}
	\leafsl{633.4}{sg1/acpid,sg2/auditd,sg3/cpuspeed,sg4/daytime-dgram,sg5/irqbalance,sg6/network}
	\forkl{sos}{754.5}{sg1,sg2,sg3,sg4,sg5,sg6}{操作系统服务}
	\hubl{svcbox}{758.5}{6163}{sba,sap,sos}{系统服务}

	% Documents
	\setrow{6636}
	\leafsl{699.4}{oa/DokuWIKI,ob/MediaWIKI}
	\forkl{oc}{807.3}{oa,ob}{运维知识库}
	\leafsl{686.7}{od/Office Visio,oe/X-Mind,of/Processon}
	\forkl{og}{807.3}{od,oe,of}{系统架构拓扑}
	\leafsl{685}{oh/CMDB}
	\forkl{oi}{807.3}{oh}{资产信息管理}
	\leafsl{686.7}{oj/WIKI,ok/工单系统}
	\forkl{ol}{807.3}{oj,ok}{故障处理记录}
	\leafsl{673.5}{om/WIKI,on/数据库私有管理系统}
	\forkl{oo}{807.3}{om,on}{数据库字段描述}
	\leafsl{807.3}{op/项目标书撰写}
	\hubl{docbox}{811.3}{6777}{oc,og,oi,ol,oo,op}{文档}

	% Bug tracking
	\setrow{6962}
	\leafsl{727.5}{bu1/Jira,bu2/Redmine,bu3/禅道}
	\hubl{bugbox}{731.5}{6989}{bu1,bu2,bu3}{BUG跟踪及管理}

	% Version control
	\setrow{7073}
	\leafsl{786.6}{vc1/Subversion,vc2/Git}
	\hubl{vcsbox}{790.6}{7086.5}{vc1,vc2}{版本管理}

	% Spokes
	\begin{scope}[on background layer]
		\foreach \hub in {databox,osbox,logbox,softbox,progbox,theorybox,devbox,bizbox,faultbox,habox,bakbox,svcbox,docbox,bugbox,vcsbox}
			\draw[spoke] (root) -- (\hub.east);
		\foreach \hub in {archbox,perfbox,secbox,monbox,autobox,hwbox,cloudbox}
			\draw[spoke] (root) -- (\hub.west);
	\end{scope}
\end{tikzpicture}
\end{document}
